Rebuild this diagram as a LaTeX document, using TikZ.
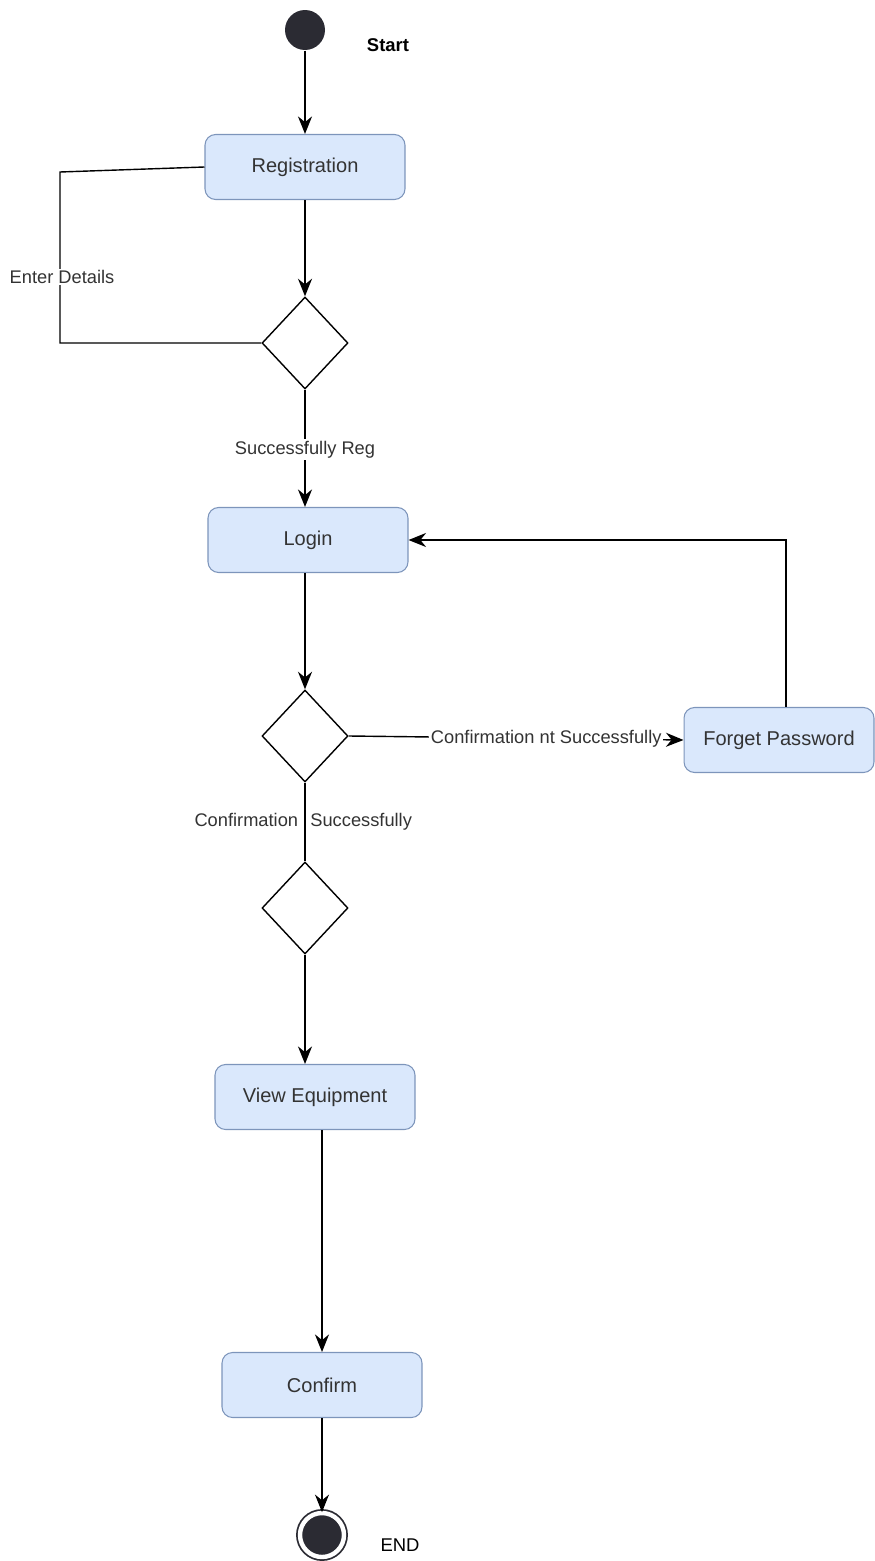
\documentclass[tikz,border=0pt]{standalone}
\usepackage{fontspec}
\setmainfont{Liberation Sans}
\usetikzlibrary{shapes.geometric,arrows.meta}

\definecolor{boxfill}{HTML}{DAE8FC}
\definecolor{boxline}{HTML}{7D95BB}
\definecolor{dotfill}{HTML}{2B2B33}
\definecolor{txtgray}{HTML}{333333}

\tikzset{
  activity/.style={rectangle, rounded corners=6pt, draw=boxline, fill=boxfill, line width=0.6pt,
    minimum width=4cm, minimum height=1.3cm, text=txtgray, font=\fontsize{11.4}{13}\selectfont},
  decision/.style={diamond, draw, line width=0.8pt, minimum width=1.72cm, minimum height=1.84cm, inner sep=0pt},
  guard/.style={fill=white, inner sep=1pt, text=txtgray, font=\fontsize{10.4}{12}\selectfont},
  startdot/.style={circle, fill=dotfill, minimum size=0.8cm, inner sep=0pt},
  enddot/.style={circle, draw=dotfill, fill=dotfill, double=white, double distance=2.5pt, line width=1pt,
    minimum size=0.88cm, inner sep=0pt},
}

\begin{document}
\begin{tikzpicture}[x=0.02cm, y=-0.02cm, line width=0.8pt, >={Stealth[length=10pt,width=8pt]}]

\useasboundingbox (0,0) rectangle (875,1561);

\node[startdot] (start) at (305,30) {};
\node[font=\bfseries\fontsize{10.5}{12}\selectfont] (startlbl) at (388,45) {Start};

\node[activity] (reg) at (305,167) {Registration};
\node[decision] (d1) at (305,343) {};
\node[activity] (login) at (308,540) {Login};
\node[decision] (d2) at (305,736) {};
\node[activity, minimum width=3.8cm] (forget) at (779,740) {Forget Password};
\node[decision] (d3) at (305,908) {};
\node[activity] (view) at (315,1097) {View Equipment};
\node[activity] (confirm) at (322,1385) {Confirm};

\node[enddot] (end) at (322,1535) {};
\node[font=\fontsize{10.5}{12}\selectfont] (endlbl) at (400,1545) {END};

\coordinate (looptop) at (60,172);
\coordinate (loopbot) at (60,343);

\draw[->] (start) -- (reg);
\draw[->] (reg) -- (d1);
\draw (d1.west) -- (loopbot) -- (looptop) -- (reg.west);
\node[guard] (enterlbl) at (62,277) {Enter Details};
\draw[->] (d1.south) -- node[guard, pos=0.51] (reglbl) {Successfully Reg} (d1.south |- login.north);

\draw[->] (d2.north |- login.south) -- (d2.north);
\draw[->] (d2.east) -- node[guard, pos=0.59] (nolbl) {Confirmation nt Successfully} (forget.west);
\draw[->] ([xshift=4]forget.north) |- (login.east);

\draw (d2.south) -- node[guard, fill=none, xshift=-1pt] (oklbl) {Confirmation\hspace{7pt}Successfully} (d3.north);
\draw[->] (d3.south) -- (d3.south |- view.north);
\draw[->] (confirm.north |- view.south) -- (confirm.north);
\draw[->] (confirm) -- (end);

\end{tikzpicture}
\end{document}
